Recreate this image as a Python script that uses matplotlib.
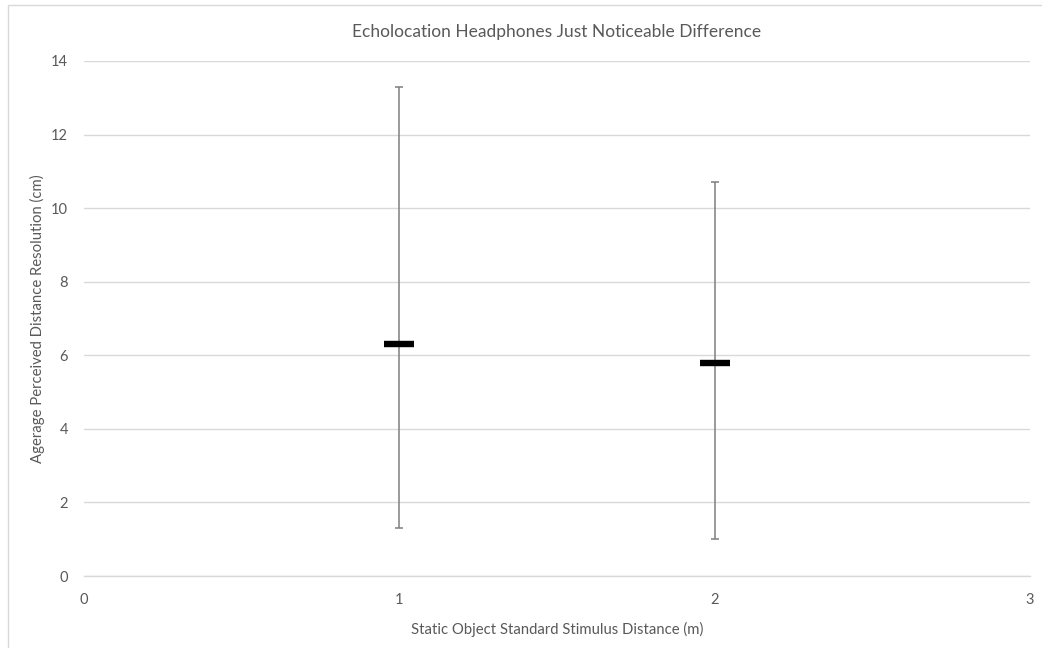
import matplotlib
matplotlib.use("Agg")
import matplotlib.pyplot as plt
from matplotlib.patches import Rectangle

# Data
distances = [1, 2]
means = [6.3, 5.8]
upper = [13.3, 10.7]
lower = [1.3, 1.0]
yticks = [0, 2, 4, 6, 8, 10, 12, 14]
xticks = [0, 1, 2, 3]

plt.rcParams['font.family'] = ['Lato', 'DejaVu Sans']

W, H = 1042, 648
fig = plt.figure(figsize=(W / 100, H / 100), dpi=100)
ax = fig.add_axes([84 / W, (H - 576) / H, (1030 - 84) / W, (576 - 61) / H])

err_lo = [m - l for m, l in zip(means, lower)]
err_hi = [u - m for m, u in zip(means, upper)]
ax.errorbar(distances, means, yerr=[err_lo, err_hi], fmt='none',
            ecolor='#7f7f7f', elinewidth=1.1, capsize=3.0, capthick=1.1, zorder=3)
ax.plot(distances, means, linestyle='none', marker='_', markersize=21,
        markeredgewidth=4.6, color='black', zorder=4)

ax.set_xlim(0, 3)
ax.set_ylim(0, 14)
ax.set_xticks(xticks)
ax.set_yticks(yticks)
ax.grid(axis='y', color='#d9d9d9', linewidth=1)
ax.set_axisbelow(True)
for s in ['top', 'right', 'left']:
    ax.spines[s].set_visible(False)
ax.spines['bottom'].set_color('#d9d9d9')
ax.spines['bottom'].set_linewidth(1)
ax.tick_params(axis='both', length=0, labelsize=10.5, labelcolor='#595959')
ax.tick_params(axis='x', pad=12)
ax.tick_params(axis='y', pad=11.5)

ax.set_xlabel('Static Object Standard Stimulus Distance (m)', fontsize=10.75,
              color='#595959', labelpad=11)
ax.set_ylabel('Agerage Perceived Distance Resolution (cm)', fontsize=10.75,
              color='#595959', labelpad=4)
fig.text(0.5 * (84 + 1030) / W, 1 - 32 / H, 'Echolocation Headphones Just Noticeable Difference',
         ha='center', va='center', fontsize=12.5, color='#595959')

fig.patches.append(Rectangle((7.5, -10), W + 10, H - 4.5 + 10, transform=None,
                             fill=False, edgecolor='#d9d9d9', linewidth=1))

fig.savefig('out.png', dpi=100)
